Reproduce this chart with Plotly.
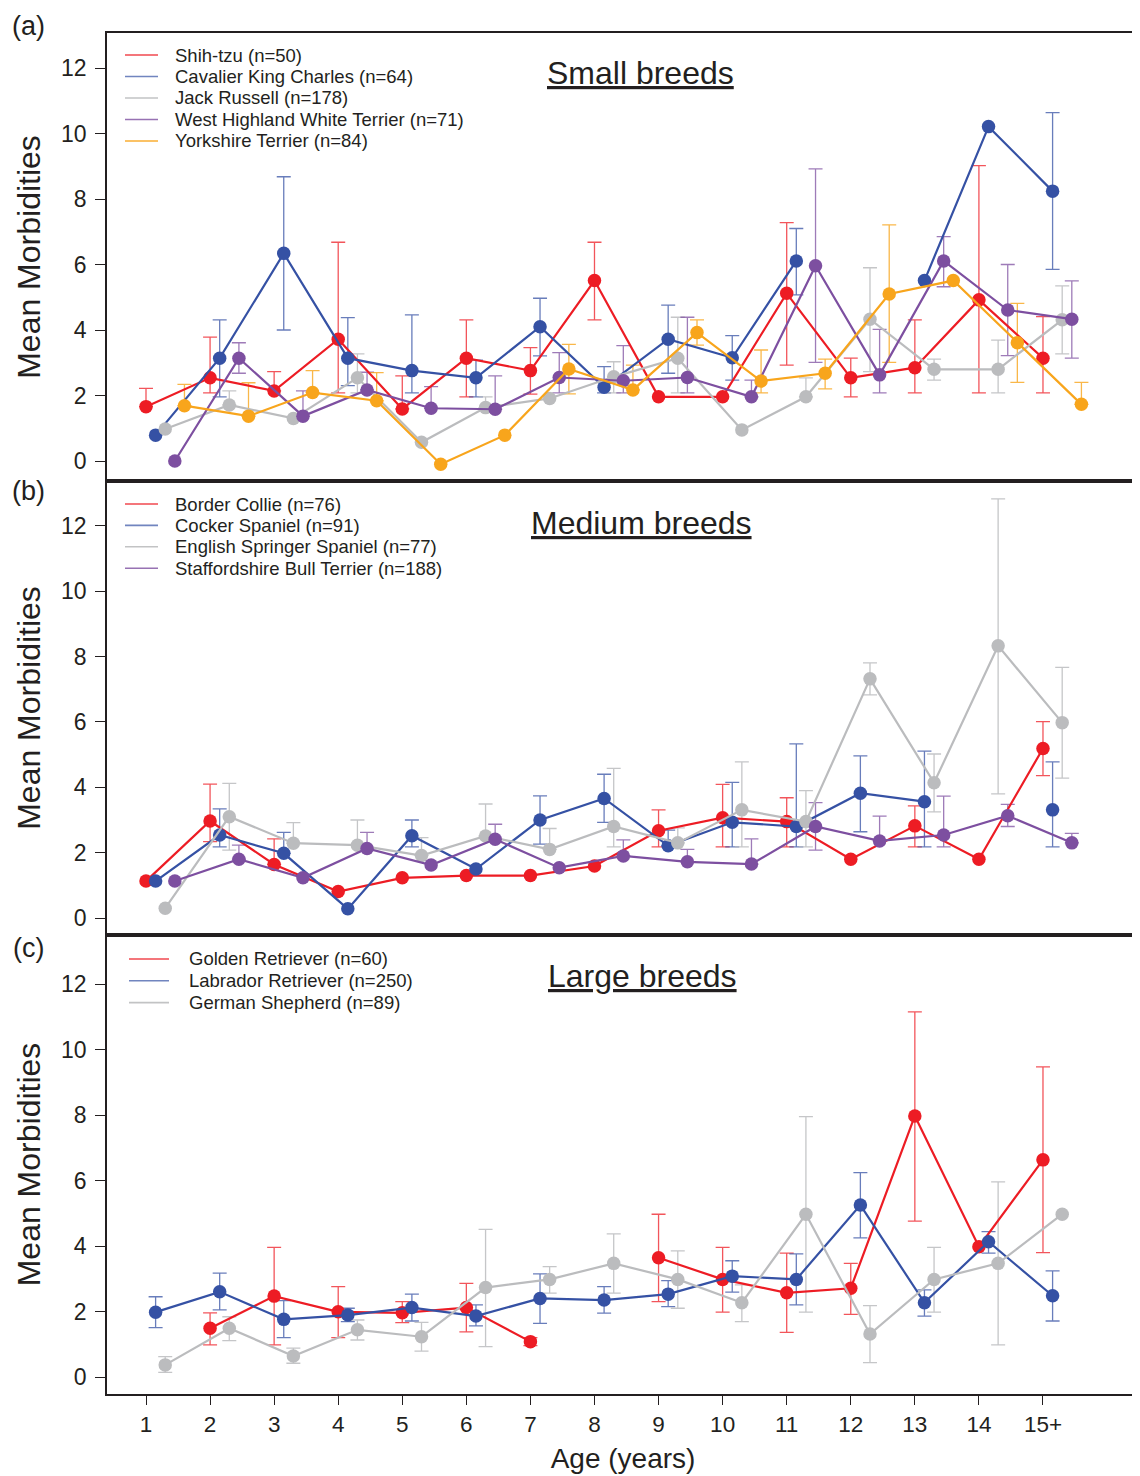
import plotly.graph_objects as go

# ---------------- data ----------------
AGES = list(range(1, 16))
AGE_LABELS = [str(a) for a in range(1, 15)] + ["15+"]

# Panel (a) Small breeds
shih_mean = [1.66, 2.54, 2.14, 3.72, 1.59, 3.14, 2.76, 5.51, 1.96, 1.96, 5.12, 2.54, 2.85, 4.92, 3.14]
shih_hi = [2.22, 3.78, 2.73, 6.68, 2.60, 4.31, 3.46, 6.68, None, None, 7.28, 3.14, 4.31, 9.02, 4.41]
shih_lo = [None, 2.08, None, 2.08, None, 1.96, 2.04, 4.31, None, None, 2.93, 1.96, 2.08, 2.08, 2.08]

cav_mean = [0.79, 3.14, 6.34, 3.14, 2.76, 2.54, 4.10, 2.25, 3.72, 3.15, 6.11, None, 5.51, 10.21, 8.24]
cav_hi = [None, 4.31, 8.68, 4.38, 4.46, 3.08, 4.97, 2.88, 4.76, 3.83, 7.10, None, None, None, 10.64]
cav_lo = [None, 1.96, 4.00, 2.30, 2.08, 1.96, 3.21, 2.08, 2.68, 2.47, 5.07, None, None, None, 5.85]

jr_mean = [0.98, 1.71, 1.30, 2.54, 0.57, 1.63, 1.91, 2.57, 3.14, 0.95, 1.96, 4.33, 2.80, 2.80, 4.31]
jr_hi = [None, 2.14, None, 3.27, None, 1.96, None, 3.03, 4.39, None, 2.54, 5.90, 3.11, 3.69, 5.35]
jr_lo = [None, None, None, 2.08, None, None, None, 2.08, 2.08, None, None, 2.73, 2.47, 2.08, 3.27]

whwt_mean = [0.00, 3.14, 1.37, 2.17, 1.61, 1.58, 2.55, 2.45, 2.55, 1.96, 5.96, 2.63, 6.11, 4.61, 4.33]
whwt_hi = [None, 3.61, 2.14, 2.71, 2.27, 2.60, 3.31, 3.52, 4.39, 2.47, 8.92, 4.02, 6.85, 6.00, 5.50]
whwt_lo = [None, 2.68, None, None, None, None, 2.08, 2.08, 2.08, None, 3.01, 2.08, 5.32, 3.22, 3.14]

york_mean = [1.69, 1.37, 2.09, 1.84, -0.10, 0.79, 2.81, 2.17, 3.92, 2.44, 2.68, 5.10, 5.51, 3.61, 1.73]
york_hi = [2.34, 2.39, 2.76, 2.70, None, None, 3.56, 2.93, 4.31, 3.39, 3.11, 7.21, None, 4.81, 2.40]
york_lo = [None, None, None, None, None, None, 2.05, None, 3.54, 2.08, 2.20, 3.01, None, 2.40, None]

# Panel (b) Medium breeds
bc_mean = [1.13, 2.97, 1.64, 0.81, 1.23, 1.30, 1.30, 1.59, 2.67, 3.07, 2.95, 1.80, 2.82, 1.80, 5.19]
bc_hi = [None, 4.10, 2.42, None, None, None, None, None, 3.31, 4.09, 3.68, None, 3.43, None, 6.01]
bc_lo = [None, 2.34, None, None, None, None, None, None, 2.18, 2.18, 2.18, None, 2.18, None, 4.36]

cs_mean = [1.13, 2.54, 1.98, 0.28, 2.52, 1.50, 3.00, 3.66, 2.21, 2.93, 2.80, 3.82, 3.56, None, 3.31]
cs_hi = [None, 3.34, 2.62, None, 3.00, None, 3.74, 4.40, 2.69, 4.15, 5.33, 4.96, 5.11, None, 4.78]
cs_lo = [None, 2.18, None, None, 2.18, None, 2.26, 2.93, None, 2.18, 2.18, 2.64, 2.18, None, 2.18]

ess_mean = [0.30, 3.10, 2.29, 2.23, 1.91, 2.51, 2.10, 2.80, 2.30, 3.31, 2.95, 7.32, 4.14, 8.33, 5.98]
ess_hi = [None, 4.12, 2.92, 3.00, 2.46, 3.49, 2.74, 4.58, 2.76, 4.78, 3.90, 7.81, 5.02, 12.83, 7.67]
ess_lo = [None, 2.08, None, None, None, None, None, 2.18, None, 2.18, 2.18, 6.83, 3.25, 3.80, 4.28]

sbt_mean = [1.13, 1.80, 1.23, 2.13, 1.62, 2.41, 1.54, 1.90, 1.72, 1.65, 2.80, 2.36, 2.54, 3.13, 2.30]
sbt_hi = [None, 2.23, None, 2.62, None, 2.87, None, 2.39, 2.10, 2.42, 3.53, 3.12, 3.73, 3.48, 2.59]
sbt_lo = [None, None, None, None, None, None, None, None, None, None, 2.08, None, 2.18, 2.80, None]

# Panel (c) Large breeds
gr_mean = [None, 1.49, 2.47, 1.99, 1.96, 2.12, 1.08, None, 3.64, 2.98, 2.57, 2.71, 7.97, 3.98, 6.63]
gr_hi = [None, 1.96, 3.96, 2.76, 2.30, 2.86, 1.20, None, 4.97, 3.96, 3.78, 3.47, 11.15, None, 9.47]
gr_lo = [None, 0.98, 0.98, 1.20, 1.66, 1.38, 0.96, None, 2.30, 1.98, 1.36, 1.91, 4.76, None, 3.80]

lab_mean = [1.98, 2.60, 1.76, 1.89, 2.12, 1.86, 2.40, 2.35, 2.53, 3.08, 2.98, 5.25, 2.27, 4.13, 2.48]
lab_hi = [2.45, 3.17, 2.33, 2.10, 2.53, 2.20, 3.15, 2.76, 2.94, 3.55, 3.76, 6.24, 2.66, 4.44, 3.24]
lab_lo = [1.51, 2.05, 1.20, 1.69, 1.71, 1.56, 1.64, 1.95, 2.15, 2.59, 2.20, 4.25, 1.86, 3.78, 1.71]

gs_mean = [0.37, 1.49, 0.64, 1.44, 1.23, 2.73, 2.98, 3.47, 2.98, 2.27, 4.97, 1.31, 2.98, 3.47, 4.97]
gs_hi = [0.62, 1.84, 0.88, 1.74, 1.67, 4.51, 3.37, 4.37, 3.85, 2.81, 7.95, 2.18, 3.96, 5.96, None]
gs_lo = [0.14, 1.11, 0.42, 1.13, 0.79, 0.93, 2.56, 2.56, 2.10, 1.69, 1.98, 0.44, 1.98, 0.98, None]

RED = "#ED1C24"
BLUE = "#3551A4"
GREY = "#BBBCBE"
PURPLE = "#7D4FA0"
ORANGE = "#F8A51C"
ERR = {RED: "rgba(237,28,36,0.75)", BLUE: "rgba(53,81,164,0.75)", GREY: "rgba(187,188,190,0.85)",
       PURPLE: "rgba(125,79,160,0.75)", ORANGE: "rgba(248,165,28,0.8)"}
LEG = {RED: "rgba(237,28,36,0.8)", BLUE: "rgba(53,81,164,0.7)", GREY: "rgba(187,188,190,0.9)",
       PURPLE: "rgba(125,79,160,0.8)", ORANGE: "rgba(248,165,28,0.9)"}

OFFSET_STEP = 0.15

panels = [
    dict(title="Small breeds", label="(a)", series=[
        ("Shih-tzu (n=50)", shih_mean, shih_hi, shih_lo, RED),
        ("Cavalier King Charles (n=64)", cav_mean, cav_hi, cav_lo, BLUE),
        ("Jack Russell (n=178)", jr_mean, jr_hi, jr_lo, GREY),
        ("West Highland White Terrier (n=71)", whwt_mean, whwt_hi, whwt_lo, PURPLE),
        ("Yorkshire Terrier (n=84)", york_mean, york_hi, york_lo, ORANGE),
    ]),
    dict(title="Medium breeds", label="(b)", series=[
        ("Border Collie (n=76)", bc_mean, bc_hi, bc_lo, RED),
        ("Cocker Spaniel (n=91)", cs_mean, cs_hi, cs_lo, BLUE),
        ("English Springer Spaniel (n=77)", ess_mean, ess_hi, ess_lo, GREY),
        ("Staffordshire Bull Terrier (n=188)", sbt_mean, sbt_hi, sbt_lo, PURPLE),
    ]),
    dict(title="Large breeds", label="(c)", series=[
        ("Golden Retriever (n=60)", gr_mean, gr_hi, gr_lo, RED),
        ("Labrador Retriever (n=250)", lab_mean, lab_hi, lab_lo, BLUE),
        ("German Shepherd (n=89)", gs_mean, gs_hi, gs_lo, GREY),
    ]),
]

# ---------------- layout geometry (page pixels; page has 8px body margin) ----------------
OFF = 8
W, H = 1140 - OFF, 1476 - OFF
PLOT_L, PLOT_R, PLOT_T, PLOT_B = 107, 1139, 33, 1394   # in page pixels
ML, MR, MT = PLOT_L - OFF, W - (PLOT_R - OFF), PLOT_T - OFF
MB = H - (PLOT_B - OFF)
PW, PH = W - ML - MR, H - MT - MB
FONT = "Liberation Sans, Arial, sans-serif"
INK = "#231F20"


def fx(p):
    return (p - OFF - ML) / PW


def fy(p):
    return (H - MB - (p - OFF)) / PH


panel_pix = [(33, 481), (481, 935), (935, 1394)]
zero_pix = [461, 918, 1377]
unit_pix = [32.75, 32.67, 32.75]
age1_pix, age_step = 146, 64.07
x_range = [1 + (PLOT_L - age1_pix) / age_step, 1 + (PLOT_R - age1_pix) / age_step]

legend_rows = [(55, 21.5), (504, 21.4), (959, 21.8)]      # first row centre, row step
legend_cols = [(125, 158, 173), (125, 158, 173), (129, 169, 187)]  # line x0, x1, text x
title_pos = [(640, 73), (641, 523), (642, 976)]
label_pos = [(28, 9, "top"), (28, 491, "middle"), (28, 948, "middle")]

fig = go.Figure()
annotations = []
shapes = []
layout = {}

for pi, panel in enumerate(panels):
    k = "" if pi == 0 else str(pi + 1)
    xa, ya = "x" + k, "y" + k
    top, bot = panel_pix[pi]
    z, u = zero_pix[pi], unit_pix[pi]
    y_range = [-(bot - z) / u, (z - top) / u]

    # error bars first
    for si, (name, mean, hi, lo, col) in enumerate(panel["series"]):
        off = si * OFFSET_STEP
        ex, ey, ep, em = [], [], [], []
        for a, m, h, l in zip(AGES, mean, hi, lo):
            if m is None or h is None:
                continue
            ex.append(a + off)
            ey.append(m)
            ep.append(max(h - m, 0))
            em.append(max(m - l, 0) if l is not None else 0)
        fig.add_trace(go.Scatter(
            x=ex, y=ey, mode="markers", marker=dict(size=1, opacity=0),
            error_y=dict(type="data", symmetric=False, array=ep, arrayminus=em,
                         color=ERR[col], thickness=1.3, width=7),
            showlegend=False, hoverinfo="skip", xaxis=xa, yaxis=ya))
    # lines + markers
    for si, (name, mean, hi, lo, col) in enumerate(panel["series"]):
        off = si * OFFSET_STEP
        fig.add_trace(go.Scatter(
            x=[a + off for a in AGES], y=mean, mode="lines+markers",
            line=dict(color=col, width=2.2), marker=dict(color=col, size=13.5),
            connectgaps=False, showlegend=False, xaxis=xa, yaxis=ya, name=name))

    # manual legend (line sample + label)
    y0, dy = legend_rows[pi]
    lx0, lx1, tx = legend_cols[pi]
    for si, (name, mean, hi, lo, col) in enumerate(panel["series"]):
        yy = fy(y0 + si * dy)
        shapes.append(dict(type="line", xref="paper", yref="paper", x0=fx(lx0), x1=fx(lx1),
                           y0=yy, y1=yy, line=dict(color=LEG[col], width=1.6)))
        annotations.append(dict(text=name, x=fx(tx), y=yy, xref="paper", yref="paper",
                                xanchor="left", yanchor="middle", showarrow=False,
                                font=dict(family=FONT, size=18.5, color=INK)))

    dom = [fy(bot), fy(top)]
    is_bottom = pi == len(panels) - 1
    layout["xaxis" + k] = dict(
        domain=[0, 1], range=x_range, anchor=ya, showline=True, mirror=True,
        linecolor=INK, linewidth=1.5, showgrid=False, zeroline=False, automargin=False,
        tickmode="array", tickvals=AGES, ticktext=AGE_LABELS,
        ticks="outside" if is_bottom else "", ticklen=9, tickwidth=1.2, tickcolor=INK,
        showticklabels=is_bottom, tickfont=dict(family=FONT, size=22.5, color=INK),
        title=dict(text="Age (years)" if is_bottom else "",
                   font=dict(family=FONT, size=28, color=INK), standoff=13),
    )
    layout["yaxis" + k] = dict(
        domain=dom, range=y_range, anchor=xa, showline=True, mirror=True,
        linecolor=INK, linewidth=1.5, showgrid=False, zeroline=False, automargin=False,
        tickmode="array", tickvals=[0, 2, 4, 6, 8, 10, 12],
        ticks="outside", ticklen=10, tickwidth=1.2, tickcolor=INK,
        tickfont=dict(family=FONT, size=23, color=INK), ticklabelstandoff=4,
        title=dict(text="Mean Morbidities", font=dict(family=FONT, size=32, color=INK), standoff=11),
    )
    annotations.append(dict(
        text=panel["title"], x=fx(title_pos[pi][0]), y=fy(title_pos[pi][1]), xref="paper", yref="paper",
        xanchor="center", yanchor="middle", showarrow=False,
        font=dict(family=FONT, size=32, color=INK, lineposition="under")))
    lx, ly, lanchor = label_pos[pi]
    annotations.append(dict(
        text=panel["label"], x=fx(lx), y=fy(ly), xref="paper", yref="paper",
        xanchor="center", yanchor=lanchor, showarrow=False,
        font=dict(family=FONT, size=27, color=INK)))

fig.update_layout(
    width=W, height=H, margin=dict(l=ML, r=MR, t=MT, b=MB, autoexpand=False),
    paper_bgcolor="white", plot_bgcolor="white", showlegend=False,
    font=dict(family=FONT, color=INK),
    annotations=annotations, shapes=shapes, **layout,
)

fig.write_html("out.html")
